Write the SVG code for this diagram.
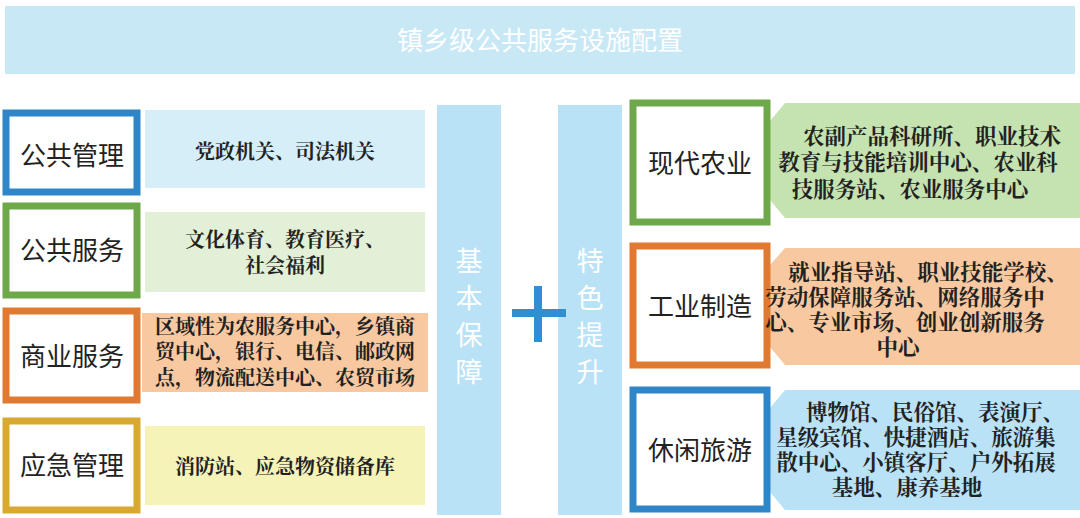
<svg xmlns="http://www.w3.org/2000/svg" width="1080" height="518" viewBox="0 0 1080 518">
<style>
text{font-family:"Noto Sans CJK SC","Noto Sans",sans-serif;text-anchor:middle}
.lbl{font-size:26px;fill:#222}
.d{font-size:20px;fill:#222;font-family:"Noto Serif CJK SC","Noto Sans CJK SC",serif;font-weight:bold}
.r{font-size:21.5px}
.col{font-size:27px;fill:#fff}
.f{fill:#fff;stroke-width:7}
</style>
<rect x="5" y="6" width="1070" height="68" fill="#c9e8f5"/>
<text x="540" y="50" style="font-size:26px;fill:#fff">镇乡级公共服务设施配置</text>
<g id="col-basic"><rect x="437" y="105" width="64" height="410" fill="#b9e2f6"/>
<text class="col" x="469" y="271">基</text><text class="col" x="469" y="308">本</text><text class="col" x="469" y="345">保</text><text class="col" x="469" y="382">障</text></g>
<g id="col-special"><rect x="558" y="105" width="64" height="410" fill="#b9e2f6"/>
<text class="col" x="590" y="271">特</text><text class="col" x="590" y="308">色</text><text class="col" x="590" y="345">提</text><text class="col" x="590" y="382">升</text></g>
<g id="connectors"><path d="M512 313H566M538 286V342" stroke="#2f8fd0" stroke-width="8" fill="none"/></g>
<g id="n1"><rect x="145" y="110" width="280" height="78" fill="#d6eef8"/><rect class="f" x="6" y="113" width="131" height="79" stroke="#2e86c8"/>
<text class="lbl" x="72" y="165">公共管理</text><text class="d" x="285" y="159">党政机关、司法机关</text></g>
<g id="n2"><rect x="145" y="212" width="280" height="80" fill="#e2f0d8"/><rect class="f" x="6" y="206" width="131" height="89" stroke="#6ea84a"/>
<text class="lbl" x="72" y="260">公共服务</text><text class="d" x="285" y="247">文化体育、教育医疗、</text><text class="d" x="285" y="273">社会福利</text></g>
<g id="n3"><rect x="142" y="313" width="286" height="79" fill="#f8c9a0"/><rect class="f" x="6" y="311" width="131" height="89" stroke="#e07a30"/>
<text class="lbl" x="72" y="366">商业服务</text><text class="d" x="285" y="334">区域性为农服务中心，乡镇商</text><text class="d" x="285" y="359">贸中心，银行、电信、邮政网</text><text class="d" x="285" y="385">点，物流配送中心、农贸市场</text></g>
<g id="n4"><rect x="145" y="426" width="280" height="79" fill="#f5f3b8"/><rect class="f" x="6" y="421" width="131" height="89" stroke="#d9a830"/>
<text class="lbl" x="72" y="475">应急管理</text><text class="d" x="285" y="474">消防站、应急物资储备库</text></g>
<g id="n5"><path d="M785 103H1080V218H785L770 200V121Z" fill="#c5e3b0"/><rect class="f" x="633" y="103" width="134" height="119" stroke="#6ea84a"/>
<text class="lbl" x="700" y="173">现代农业</text><text class="d r" x="932" y="144">农副产品科研所、职业技术</text><text class="d r" x="918" y="170">教育与技能培训中心、农业科</text><text class="d r" x="910" y="197">技服务站、农业服务中心</text></g>
<g id="n6"><path d="M785 248H1080V365H785L770 347V265Z" fill="#f8c9a0"/><rect class="f" x="633" y="246" width="134" height="119" stroke="#e07a30"/>
<text class="lbl" x="700" y="316">工业制造</text><text class="d r" x="928" y="280">就业指导站、职业技能学校、</text><text class="d r" x="905" y="305">劳动保障服务站、网络服务中</text><text class="d r" x="905" y="330">心、专业市场、创业创新服务</text><text class="d r" x="898" y="355">中心</text></g>
<g id="n7"><path d="M785 390H1080V510H785L770 492V408Z" fill="#b9e2f6"/><rect class="f" x="633" y="390" width="134" height="119" stroke="#2e86c8"/>
<text class="lbl" x="700" y="460">休闲旅游</text><text class="d r" x="935" y="420">博物馆、民俗馆、表演厅、</text><text class="d r" x="916" y="445">星级宾馆、快捷酒店、旅游集</text><text class="d r" x="916" y="470">散中心、小镇客厅、户外拓展</text><text class="d r" x="907" y="495">基地、康养基地</text></g>
</svg>
